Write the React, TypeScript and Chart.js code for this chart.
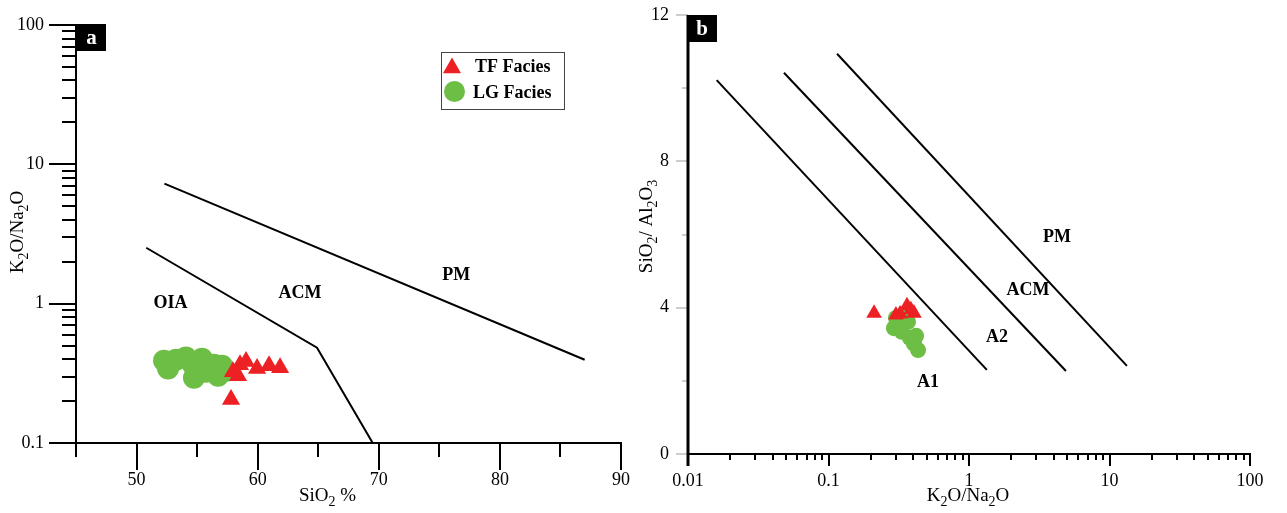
import React, { useEffect, useRef } from 'react';
import { Chart, registerables } from 'chart.js';

Chart.register(...registerables);

// ---------- Panel a data (SiO2 % vs K2O/Na2O) ----------
const TF_SIO2 = [58.54, 59.04, 59.95, 60.94, 61.85, 57.96, 58.38, 57.8];
const TF_K2O_NA2O_A = [0.365, 0.384, 0.342, 0.359, 0.347, 0.325, 0.304, 0.205];
const LG_SIO2 = [52.27, 52.6, 53.26, 54.08, 54.66, 54.74, 55.4, 55.73, 56.4, 57.06, 57.39, 56.73];
const LG_K2O_NA2O_A = [0.39, 0.342, 0.396, 0.41, 0.365, 0.294, 0.403, 0.325, 0.365, 0.359, 0.33, 0.304];

// boundary lines, panel a
const A_UPPER_X = [52.3, 87.0];
const A_UPPER_Y = [7.27, 0.396];
const A_LOWER_X = [50.8, 64.9, 69.5];
const A_LOWER_Y = [2.52, 0.483, 0.1];

// ---------- Panel b data (K2O/Na2O vs SiO2/Al2O3) ----------
const TF_K2O_NA2O_B = [0.362, 0.323, 0.406, 0.302, 0.386, 0.211];
const TF_SIO2_AL2O3 = [4.05, 3.83, 3.85, 3.8, 3.94, 3.85];
const LG_K2O_NA2O_B = [0.302, 0.292, 0.333, 0.368, 0.38, 0.406, 0.434, 0.42, 0.35];
const LG_SIO2_AL2O3 = [3.72, 3.44, 3.34, 3.61, 3.17, 3.01, 2.84, 3.23, 3.83];

// boundary lines, panel b
const B_A1_X = [0.016, 1.34];
const B_A1_Y = [10.22, 2.3];
const B_A2_X = [0.0482, 4.9];
const B_A2_Y = [10.42, 2.27];
const B_PM_X = [0.115, 13.3];
const B_PM_Y = [10.94, 2.41];

// ---------- ticks ----------
const A_X_TICKS = [50, 60, 70, 80, 90];
const A_X_MINOR = [45, 55, 65, 75, 85];
const A_Y_TICKS = [0.1, 1, 10, 100];
const B_X_TICKS = [0.01, 0.1, 1, 10, 100];
const B_Y_TICKS = [0, 4, 8, 12];
const B_Y_MINOR = [2, 6, 10];

// ---------- region labels ----------
const A_REGION_TEXT = ['OIA', 'ACM', 'PM'];
const A_REGION_X = [52.8, 63.5, 76.4];
const A_REGION_Y = [1.0, 1.18, 1.59];
const B_REGION_TEXT = ['PM', 'ACM', 'A2', 'A1'];
const B_REGION_X = [4.23, 2.63, 1.58, 0.51];
const B_REGION_Y = [5.93, 4.46, 3.2, 1.97];

const LEGEND_LABELS = ['TF Facies', 'LG Facies'];

const RED = '#ED2024';
const GREEN = '#6DBE45';
const SERIF = '"Liberation Serif", "Times New Roman", serif';

const zip = (xs: number[], ys: number[]) => xs.map((x, i) => ({ x, y: ys[i] }));

function seg(ctx: CanvasRenderingContext2D, x1: number, y1: number, x2: number, y2: number) {
  ctx.beginPath();
  ctx.moveTo(x1, y1);
  ctx.lineTo(x2, y2);
  ctx.stroke();
}

type Part = { t: string; sub?: boolean };
function drawRich(ctx: CanvasRenderingContext2D, parts: Part[], x: number, y: number, size: number, angle: number) {
  ctx.save();
  ctx.translate(x, y);
  ctx.rotate(angle);
  const main = `${size}px ${SERIF}`;
  const sub = `${Math.round(size * 0.72)}px ${SERIF}`;
  let w = 0;
  for (const p of parts) {
    ctx.font = p.sub ? sub : main;
    w += ctx.measureText(p.t).width;
  }
  let cx = -w / 2;
  ctx.textBaseline = 'middle';
  ctx.textAlign = 'left';
  ctx.fillStyle = '#000';
  for (const p of parts) {
    ctx.font = p.sub ? sub : main;
    ctx.fillText(p.t, cx, p.sub ? size * 0.32 : 0);
    cx += ctx.measureText(p.t).width;
  }
  ctx.restore();
}

function logMinors(min: number, max: number) {
  const out: number[] = [];
  for (let d = Math.floor(Math.log10(min)); d < Math.ceil(Math.log10(max)); d++) {
    for (let m = 2; m <= 9; m++) {
      const v = m * Math.pow(10, d);
      if (v > min && v < max) out.push(v);
    }
  }
  return out;
}

function letterBox(ctx: CanvasRenderingContext2D, x: number, y: number, w: number, h: number, letter: string) {
  ctx.fillStyle = '#000';
  ctx.fillRect(x, y, w, h);
  ctx.fillStyle = '#fff';
  ctx.font = `bold 21px ${SERIF}`;
  ctx.textAlign = 'center';
  ctx.textBaseline = 'middle';
  ctx.fillText(letter, x + w / 2, y + h / 2 + 1);
}

function triangle(ctx: CanvasRenderingContext2D, x: number, y: number, r: number) {
  ctx.beginPath();
  for (let i = 0; i < 3; i++) {
    const a = (i * 2 * Math.PI) / 3;
    const px = x + Math.sin(a) * r;
    const py = y - Math.cos(a) * r;
    if (i === 0) ctx.moveTo(px, py);
    else ctx.lineTo(px, py);
  }
  ctx.closePath();
  ctx.fill();
}

const panelAPlugin = {
  id: 'panelA',
  afterDraw(chart: any) {
    const { ctx, chartArea, scales } = chart;
    const { left, right, top, bottom } = chartArea;
    const x = scales.x;
    const y = scales.y;
    ctx.save();
    ctx.strokeStyle = '#000';
    ctx.lineWidth = 2;
    seg(ctx, left, top - 1, left, bottom + 14);
    seg(ctx, left, bottom, right + 1, bottom);
    for (const v of A_Y_TICKS) {
      const py = Math.round(y.getPixelForValue(v));
      seg(ctx, left - 27, py, left, py);
    }
    for (const v of logMinors(0.1, 100)) {
      const py = Math.round(y.getPixelForValue(v));
      seg(ctx, left - 14, py, left, py);
    }
    for (const v of A_X_TICKS) {
      const px = Math.round(x.getPixelForValue(v));
      seg(ctx, px, bottom, px, bottom + 27);
    }
    for (const v of A_X_MINOR) {
      const px = Math.round(x.getPixelForValue(v));
      seg(ctx, px, bottom, px, bottom + 14);
    }
    // region labels
    ctx.fillStyle = '#000';
    ctx.font = `bold 18px ${SERIF}`;
    ctx.textAlign = 'center';
    ctx.textBaseline = 'middle';
    A_REGION_TEXT.forEach((t, i) => {
      ctx.fillText(t, x.getPixelForValue(A_REGION_X[i]), y.getPixelForValue(A_REGION_Y[i]));
    });
    // axis titles
    drawRich(ctx, [{ t: 'SiO' }, { t: '2', sub: true }, { t: ' %' }], (left + right) / 2 - 21, bottom + 53, 19, 0);
    drawRich(
      ctx,
      [{ t: 'K' }, { t: '2', sub: true }, { t: 'O/Na' }, { t: '2', sub: true }, { t: 'O' }],
      left - 58,
      (top + bottom) / 2 - 2,
      19,
      -Math.PI / 2
    );
    // panel letter
    letterBox(ctx, left + 1, top - 1, 29, 27, 'a');
    // legend
    const lx = 441;
    const ly = 52;
    ctx.strokeStyle = '#444';
    ctx.lineWidth = 1;
    ctx.strokeRect(lx + 0.5, ly + 0.5, 123, 57);
    ctx.fillStyle = RED;
    triangle(ctx, 452, 68, 10.4);
    ctx.fillStyle = GREEN;
    ctx.beginPath();
    ctx.arc(454.5, 91.5, 10.5, 0, Math.PI * 2);
    ctx.fill();
    ctx.fillStyle = '#000';
    ctx.font = `bold 18px ${SERIF}`;
    ctx.textAlign = 'left';
    ctx.textBaseline = 'middle';
    ctx.fillText(LEGEND_LABELS[0], 475, 67);
    ctx.fillText(LEGEND_LABELS[1], 473, 93);
    ctx.restore();
  },
};

const panelBPlugin = {
  id: 'panelB',
  afterDraw(chart: any) {
    const { ctx, chartArea, scales } = chart;
    const { left, right, top, bottom } = chartArea;
    const x = scales.x;
    const y = scales.y;
    ctx.save();
    // y ticks (gray)
    ctx.strokeStyle = '#bdbdbd';
    ctx.lineWidth = 1.5;
    for (const v of B_Y_TICKS) {
      const py = Math.round(y.getPixelForValue(v));
      seg(ctx, left - 12, py, left, py);
    }
    for (const v of B_Y_MINOR) {
      const py = Math.round(y.getPixelForValue(v));
      seg(ctx, left - 6, py, left, py);
    }
    ctx.strokeStyle = '#000';
    ctx.lineWidth = 2;
    seg(ctx, left - 1, bottom, right + 1, bottom);
    for (const v of B_X_TICKS) {
      const px = Math.round(x.getPixelForValue(v));
      seg(ctx, px, bottom, px, bottom + 12);
    }
    for (const v of logMinors(0.01, 100)) {
      const px = Math.round(x.getPixelForValue(v));
      seg(ctx, px, bottom, px, bottom + 6);
    }
    ctx.lineWidth = 3;
    seg(ctx, left, top, left, bottom + 12);
    // region labels
    ctx.fillStyle = '#000';
    ctx.font = `bold 18px ${SERIF}`;
    ctx.textAlign = 'center';
    ctx.textBaseline = 'middle';
    B_REGION_TEXT.forEach((t, i) => {
      ctx.fillText(t, x.getPixelForValue(B_REGION_X[i]), y.getPixelForValue(B_REGION_Y[i]));
    });
    drawRich(
      ctx,
      [{ t: 'K' }, { t: '2', sub: true }, { t: 'O/Na' }, { t: '2', sub: true }, { t: 'O' }],
      (left + right) / 2 - 1,
      bottom + 42,
      19,
      0
    );
    drawRich(
      ctx,
      [{ t: 'SiO' }, { t: '2', sub: true }, { t: '/ Al' }, { t: '2', sub: true }, { t: 'O' }, { t: '3', sub: true }],
      left - 41,
      (top + bottom) / 2 - 8,
      19,
      -Math.PI / 2
    );
    letterBox(ctx, left - 1, top, 30, 27, 'b');
    ctx.restore();
  },
};

const tickFont = { family: SERIF, size: 18 };

const fitX = (h: number) => (s: any) => {
  s.height = h;
  s.paddingLeft = 0;
  s.paddingRight = 0;
};
const fitY = (w: number) => (s: any) => {
  s.width = w;
  s.paddingTop = 0;
  s.paddingBottom = 0;
};

const lineStyle = { showLine: true, pointRadius: 0, borderColor: '#000', borderWidth: 2 };

function configA(): any {
  return {
    type: 'scatter',
    data: {
      datasets: [
        {
          label: LEGEND_LABELS[0],
          data: zip(TF_SIO2, TF_K2O_NA2O_A),
          pointStyle: 'triangle',
          pointRadius: 10.5,
          backgroundColor: RED,
          borderWidth: 0,
        },
        {
          label: LEGEND_LABELS[1],
          data: zip(LG_SIO2, LG_K2O_NA2O_A),
          pointStyle: 'circle',
          pointRadius: 11,
          backgroundColor: GREEN,
          borderWidth: 0,
        },
        { data: zip(A_UPPER_X, A_UPPER_Y), ...lineStyle },
        { data: zip(A_LOWER_X, A_LOWER_Y), ...lineStyle },
      ],
    },
    options: {
      responsive: false,
      animation: false,
      events: [],
      layout: { padding: { left: 0, right: 24, top: 25, bottom: 0 } },
      plugins: { legend: { display: false }, tooltip: { enabled: false } },
      scales: {
        x: {
          type: 'linear',
          min: 45,
          max: 90,
          afterBuildTicks: (s: any) => {
            s.ticks = A_X_TICKS.map((v) => ({ value: v }));
          },
          afterFit: fitX(70),
          grid: { display: false, drawTicks: false },
          border: { display: false },
          ticks: {
            padding: 26,
            font: tickFont,
            color: '#000',
            maxRotation: 0,
            autoSkip: false,
            callback: (v: any) => String(v),
          },
        },
        y: {
          type: 'logarithmic',
          min: 0.1,
          max: 100,
          afterBuildTicks: (s: any) => {
            s.ticks = A_Y_TICKS.map((v) => ({ value: v }));
          },
          afterFit: fitY(76),
          grid: { display: false, drawTicks: false },
          border: { display: false },
          ticks: {
            padding: 32,
            font: tickFont,
            color: '#000',
            autoSkip: false,
            callback: (v: any) => String(v),
          },
        },
      },
    },
    plugins: [panelAPlugin],
  };
}

function configB(): any {
  return {
    type: 'scatter',
    data: {
      datasets: [
        {
          label: LEGEND_LABELS[0],
          data: zip(TF_K2O_NA2O_B, TF_SIO2_AL2O3),
          pointStyle: 'triangle',
          pointRadius: 9,
          backgroundColor: RED,
          borderWidth: 0,
        },
        {
          label: LEGEND_LABELS[1],
          data: zip(LG_K2O_NA2O_B, LG_SIO2_AL2O3),
          pointStyle: 'circle',
          pointRadius: 8,
          backgroundColor: GREEN,
          borderWidth: 0,
        },
        { data: zip(B_A1_X, B_A1_Y), ...lineStyle },
        { data: zip(B_A2_X, B_A2_Y), ...lineStyle },
        { data: zip(B_PM_X, B_PM_Y), ...lineStyle },
      ],
    },
    options: {
      responsive: false,
      animation: false,
      events: [],
      layout: { padding: { left: 0, right: 657 - 620, top: 15, bottom: 0 } },
      plugins: { legend: { display: false }, tooltip: { enabled: false } },
      scales: {
        x: {
          type: 'logarithmic',
          min: 0.01,
          max: 100,
          afterBuildTicks: (s: any) => {
            s.ticks = B_X_TICKS.map((v) => ({ value: v }));
          },
          afterFit: fitX(59),
          grid: { display: false, drawTicks: false },
          border: { display: false },
          ticks: {
            padding: 16,
            font: tickFont,
            color: '#000',
            maxRotation: 0,
            autoSkip: false,
            callback: (v: any) => String(v),
          },
        },
        y: {
          type: 'linear',
          min: 0,
          max: 12,
          afterBuildTicks: (s: any) => {
            s.ticks = B_Y_TICKS.map((v) => ({ value: v }));
          },
          afterFit: fitY(58),
          grid: { display: false, drawTicks: false },
          border: { display: false },
          ticks: {
            padding: 19,
            font: tickFont,
            color: '#000',
            autoSkip: false,
            callback: (v: any) => String(v),
          },
        },
      },
    },
    plugins: [panelBPlugin],
  };
}

function Panel({ make, left, width }: { make: () => any; left: number; width: number }) {
  const ref = useRef<HTMLCanvasElement | null>(null);
  useEffect(() => {
    if (!ref.current) return;
    const chart = new Chart(ref.current, make());
    return () => chart.destroy();
  }, [make]);
  return (
    <canvas
      ref={ref}
      width={width}
      height={513}
      style={{ position: 'absolute', left, top: 0, width, height: 513, display: 'block' }}
    />
  );
}

export default function App() {
  return (
    <div style={{ position: 'fixed', left: 0, top: 0, width: 1287, height: 513, background: '#fff', overflow: 'hidden' }}>
      <Panel make={configA} left={0} width={645} />
      <Panel make={configB} left={630} width={657} />
    </div>
  );
}
